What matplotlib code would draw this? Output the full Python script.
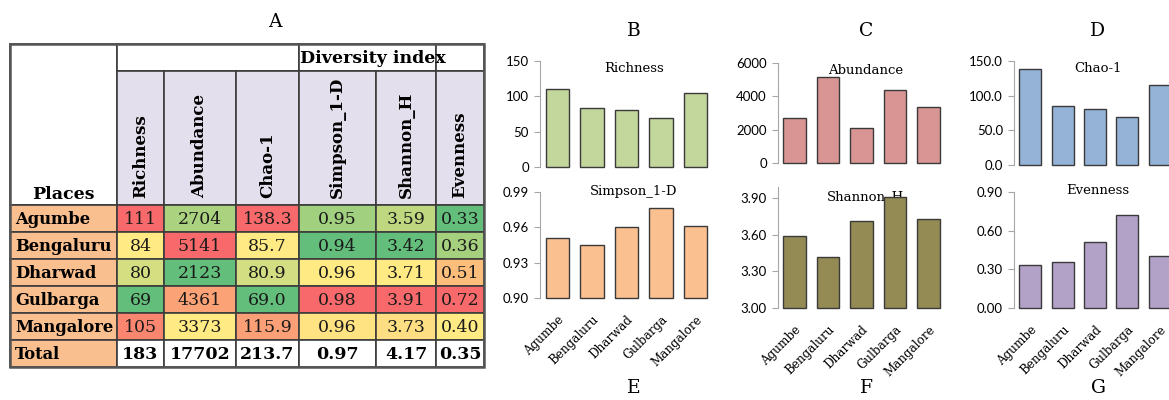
import numpy as np
import matplotlib.pyplot as plt
from matplotlib.colors import TwoSlopeNorm, LinearSegmentedColormap
from matplotlib.patches import Rectangle

# data
places = ['Agumbe', 'Bengaluru', 'Dharwad', 'Gulbarga', 'Mangalore']
richness = [111, 84, 80, 69, 105]
abundance = [2704, 5141, 2123, 4361, 3373]
chao1 = [138.3, 85.7, 80.9, 69.0, 115.9]
simpson = [0.951, 0.945, 0.960, 0.976, 0.961]
shannon = [3.59, 3.42, 3.71, 3.91, 3.73]
evenness = [0.33, 0.36, 0.51, 0.72, 0.40]
totals = [183, 17702, 213.7, 0.97, 4.17, 0.35]

metric_names = ['Richness', 'Abundance', 'Chao-1', 'Simpson_1-D', 'Shannon_H', 'Evenness']
metric_vals = [richness, abundance, chao1, simpson, shannon, evenness]
metric_fmt = ['{:.0f}', '{:.0f}', '{:.1f}', '{:.2f}', '{:.2f}', '{:.2f}']

W, H = 1169, 400
plt.rcParams['font.family'] = 'DejaVu Serif'

fig = plt.figure(figsize=(W / 100, H / 100), dpi=100)

# background axes in pixel units for the table and free text
tab = fig.add_axes([0, 0, 1, 1])
tab.set_xlim(0, W)
tab.set_ylim(H, 0)
tab.axis('off')

# Excel-like 3 colour scale (green - yellow - red)
xl = LinearSegmentedColormap.from_list('xl', ['#63BE7B', '#FFEB84', '#F8696B'])

col_x = [10, 117, 164, 236, 299, 376, 436, 484]
row_y = [44, 71, 205, 232, 259, 286, 313, 340, 367]
edge = '#3c3c3c'
place_fc = '#F9BF8F'
head_fc = '#E4DFEC'


def cell(x0, x1, y0, y1, fc):
    tab.add_patch(Rectangle((x0, y0), x1 - x0, y1 - y0, facecolor=fc,
                            edgecolor=edge, linewidth=1.2))


# header
cell(col_x[0], col_x[1], row_y[0], row_y[2], 'white')
tab.text((col_x[0] + col_x[1]) / 2, 199, 'Places', ha='center', va='baseline',
         fontsize=12.5, fontweight='bold')
cell(col_x[1], col_x[4], row_y[0], row_y[1], 'white')
cell(col_x[4], col_x[6], row_y[0], row_y[1], 'white')
cell(col_x[6], col_x[7], row_y[0], row_y[1], 'white')
t = tab.text(col_x[4] + 1, (row_y[0] + row_y[1]) / 2 + 1, 'Diversity index',
             ha='left', va='center', fontsize=12.5, fontweight='bold')
clip = Rectangle((col_x[4], row_y[0]), col_x[6] - col_x[4], row_y[1] - row_y[0],
                 transform=tab.transData)
t.set_clip_path(clip)

for j, name in enumerate(metric_names):
    x0, x1 = col_x[j + 1], col_x[j + 2]
    cell(x0, x1, row_y[1], row_y[2], head_fc)
    tab.text((x0 + x1) / 2, 198, name, rotation=90, ha='center', va='bottom',
             fontsize=12, fontweight='bold')

# body
for i, p in enumerate(places):
    y0, y1 = row_y[i + 2], row_y[i + 3]
    cell(col_x[0], col_x[1], y0, y1, place_fc)
    tab.text(col_x[0] + 5, (y0 + y1) / 2 + 1, p, ha='left', va='center',
             fontsize=11.8, fontweight='bold')
    for j, vals in enumerate(metric_vals):
        norm = TwoSlopeNorm(vmin=min(vals), vcenter=float(np.median(vals)), vmax=max(vals))
        x0, x1 = col_x[j + 1], col_x[j + 2]
        cell(x0, x1, y0, y1, xl(norm(vals[i])))
        tab.text((x0 + x1) / 2, (y0 + y1) / 2 + 1, metric_fmt[j].format(vals[i]),
                 ha='center', va='center', fontsize=12.5, color='#1a1a1a')

# total row
y0, y1 = row_y[-2], row_y[-1]
cell(col_x[0], col_x[1], y0, y1, place_fc)
tab.text(col_x[0] + 5, (y0 + y1) / 2 + 1, 'Total', ha='left', va='center',
         fontsize=11.8, fontweight='bold')
for j, v in enumerate(totals):
    x0, x1 = col_x[j + 1], col_x[j + 2]
    cell(x0, x1, y0, y1, 'white')
    tab.text((x0 + x1) / 2, (y0 + y1) / 2 + 1, metric_fmt[j].format(v),
             ha='center', va='center', fontsize=12.5, fontweight='bold')

tab.add_patch(Rectangle((col_x[0], row_y[0]), col_x[-1] - col_x[0], row_y[-1] - row_y[0],
                        facecolor='none', edgecolor='#555555', linewidth=1.8))

# panel letters
for letter, (lx, ly) in zip('ABCDEFG', [(275, 22), (634, 31), (866, 31), (1098, 31),
                                        (634, 388), (866, 388), (1098, 388)]):
    tab.text(lx, ly, letter, ha='center', va='center', fontsize=13.5)


def bar_panel(box, vals, color, lim, ticks, fmt, title, title_xy, xlabels):
    x0, y0, x1, y1 = box
    ax = fig.add_axes([x0 / W, 1 - y1 / H, (x1 - x0) / W, (y1 - y0) / H])
    ax.set_facecolor('none')
    lo = lim[0]
    ax.bar(range(len(vals)), np.array(vals) - lo, bottom=lo, width=0.68, color=color,
           edgecolor='#3a3a3a', linewidth=1.0, clip_on=False)
    ax.set_xlim(-0.5, 4.5)
    ax.set_ylim(*lim)
    ax.set_yticks(ticks)
    ax.set_yticklabels([fmt.format(v) for v in ticks], fontfamily='Lato', fontsize=9.5)
    for s in ['top', 'right', 'bottom']:
        ax.spines[s].set_visible(False)
    ax.spines['left'].set_color('#a6a6a6')
    ax.tick_params(axis='y', length=4.5, width=0.8, color='#a6a6a6', pad=3.5)
    ax.set_xticks(range(len(vals)))
    if xlabels:
        ax.set_xticklabels(places, rotation=45, ha='right', va='top',
                           rotation_mode='anchor', fontsize=8.6)
        ax.tick_params(axis='x', length=0, pad=11)
    else:
        ax.set_xticklabels([])
        ax.tick_params(axis='x', length=0)
    tab.text(title_xy[0], title_xy[1], title, ha='center', va='center', fontsize=9.5)
    return ax


bar_panel((540, 61, 713, 167), richness, '#C3D69B', (0, 150), [0, 50, 100, 150],
          '{:.0f}', 'Richness', (634, 68), False)
bar_panel((540, 192, 713, 298), simpson, '#FAC090', (0.90, 0.99), [0.90, 0.93, 0.96, 0.99],
          '{:.2f}', 'Simpson_1-D', (634, 192), True)
bar_panel((778, 63, 945, 163), abundance, '#D99594', (0, 6000), [0, 2000, 4000, 6000],
          '{:.0f}', 'Abundance', (866, 70), False)
bar_panel((778, 187, 945, 308), shannon, '#948A54', (3.0, 3.99), [3.0, 3.3, 3.6, 3.9],
          '{:.2f}', 'Shannon_H', (866, 197), True)
bar_panel((1014, 61, 1176, 165), chao1, '#95B3D7', (0, 150), [0, 50, 100, 150],
          '{:.1f}', 'Chao-1', (1098, 68), False)
bar_panel((1014, 192, 1176, 308), evenness, '#B3A2C7', (0, 0.9), [0, 0.3, 0.6, 0.9],
          '{:.2f}', 'Evenness', (1098, 190), True)

fig.savefig('out.png', dpi=100)
